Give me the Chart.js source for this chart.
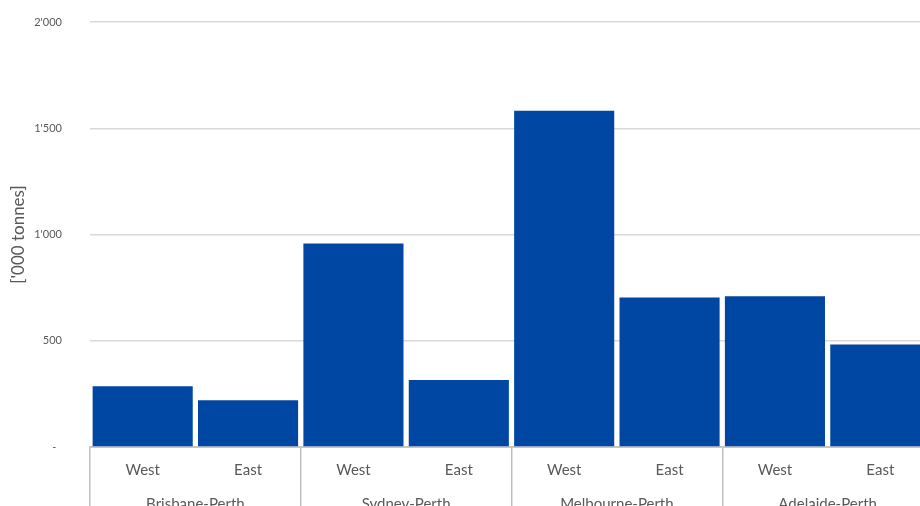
<!DOCTYPE html>
<html>
<head>
<meta charset="utf-8">
<script src="https://cdn.jsdelivr.net/npm/chart.js@4/dist/chart.umd.min.js"></script>
<style>
  html, body { margin: 0; padding: 0; background: #ffffff; overflow: hidden; width: 920px; height: 506px; }
  #wrap { position: relative; width: 940px; height: 523px; }
</style>
</head>
<body>
<div id="wrap"><canvas id="c" width="940" height="523"></canvas></div>
<script>
// ---- data ----
const directions = ['West', 'East', 'West', 'East', 'West', 'East', 'West', 'East'];
const routes = ['Brisbane-Perth', 'Sydney-Perth', 'Melbourne-Perth', 'Adelaide-Perth'];
const tonnes = [286, 220, 958, 315, 1582, 704, 709, 482];
const yTicks = [0, 500, 1000, 1500, 2000];
const yTitle = "['000 tonnes]";

const FONT = 'Lato, "Open Sans", sans-serif';
const TXT = '#595959';

function fmt(v) {
  if (v === 0) return '-  ';
  return String(v).replace(/\B(?=(\d{3})+(?!\d))/g, "'");
}

new Chart(document.getElementById('c'), {
  type: 'bar',
  data: {
    labels: directions,
    datasets: [{
      data: tonnes,
      backgroundColor: '#0047a3',
      borderWidth: 0,
      barPercentage: 0.95,
      categoryPercentage: 1.0,
      xAxisID: 'x'
    }]
  },
  options: {
    responsive: false,
    animation: false,
    events: [],
    layout: { padding: { top: 22, right: 7, bottom: 0, left: 0 } },
    plugins: { legend: { display: false }, tooltip: { enabled: false } },
    scales: {
      y: {
        min: 0, max: 2000,
        afterBuildTicks: s => { s.ticks = yTicks.map(v => ({ value: v })); },
        afterFit: s => { s.width = 90; },
        border: { display: false },
        grid: { color: '#d9d9d9', lineWidth: 1.5, drawTicks: true, tickLength: 28, tickColor: 'rgba(0,0,0,0)' },
        ticks: { padding: 0, color: TXT, font: { family: FONT, size: 11 }, callback: v => fmt(v) },
        title: { display: true, text: yTitle, color: TXT, font: { family: FONT, size: 17 }, padding: { top: 8, bottom: 0 } }
      },
      x: {
        position: 'bottom',
        offset: true,
        afterFit: s => { s.height = 36; },
        border: { display: true, color: '#c6c6c6', width: 2 },
        grid: {
          offset: true,
          drawOnChartArea: false,
          tickLength: 80,
          lineWidth: 1.5,
          color: ctx => ((ctx.index ?? 0) % 2 === 0 ? '#c0c0c0' : 'rgba(0,0,0,0)')
        },
        ticks: { padding: -66, color: TXT, font: { family: FONT, size: 15 }, maxRotation: 0, autoSkip: false }
      },
      x2: {
        type: 'category',
        position: 'bottom',
        labels: routes,
        offset: true,
        afterFit: s => { s.height = 40; },
        border: { display: false },
        grid: { display: false, drawTicks: false },
        ticks: { padding: 12, color: TXT, font: { family: FONT, size: 15 }, maxRotation: 0, autoSkip: false }
      }
    }
  }
});
</script>
</body>
</html>
